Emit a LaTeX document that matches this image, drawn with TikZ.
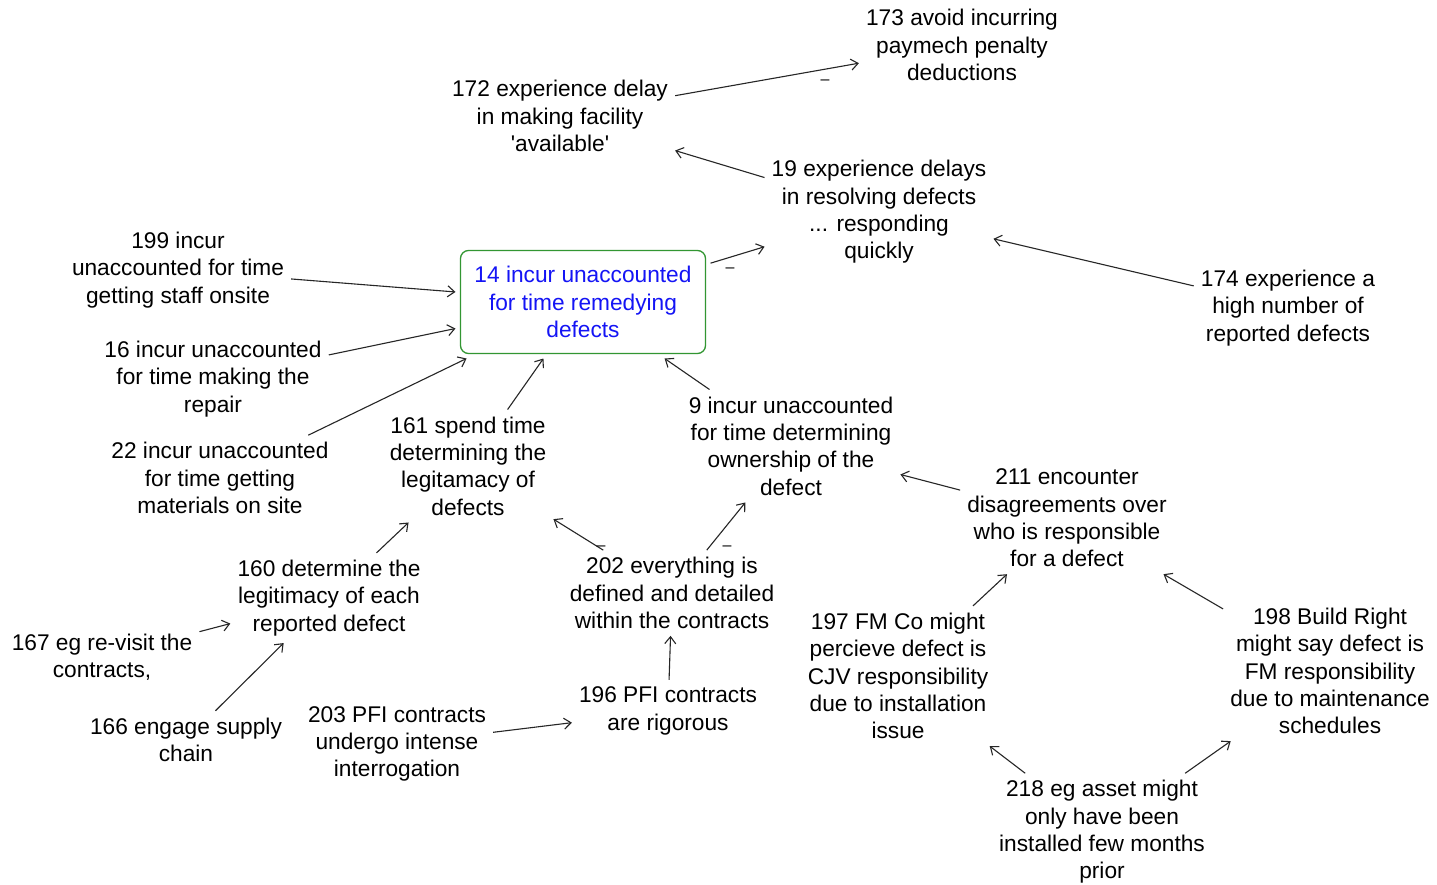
\documentclass[tikz,border=0pt]{standalone}
\usepackage{fontspec}
\setmainfont{Liberation Sans}[Ligatures=TeXOff]
\usetikzlibrary{arrows.meta}
\definecolor{framegreen}{RGB}{50,150,50}
\definecolor{focusblue}{RGB}{20,20,245}
\begin{document}
\begin{tikzpicture}[x=1pt,y=-1pt,
  txt/.style={align=center,font=\fontsize{22.7}{27.3}\selectfont,inner sep=7pt,text=black},
  focus/.style={txt,text=focusblue,draw=framegreen,line width=1.3pt,rounded corners=8pt,
    minimum width=245pt,minimum height=103pt,inner sep=4pt,outer sep=5pt},
  arr/.style={-{Straight Barb[length=7pt,width=11pt]},line width=1.1pt,draw=black!85},
  neg/.style={font=\fontsize{16}{16}\selectfont,inner sep=0pt}]
\useasboundingbox[fill=white] (0,0) rectangle (1437,885);

% concepts
\node[txt] (n173) at (962,45) {173 avoid incurring\\paymech penalty\\deductions};
\node[txt] (n172) at (560,116) {172 experience delay\\in making facility\\'available'};
\node[txt] (n19) at (879,212) {19 experience delays\\in resolving defects\\... responding\\quickly};
\node[txt] (n199) at (178,270) {199 incur\\unaccounted for time\\getting staff onsite};
\node[focus] (n14) at (583,302) {14 incur unaccounted\\for time remedying\\defects};
\node[txt] (n174) at (1288,308) {174 experience a\\high number of\\reported defects};
\node[txt] (n16) at (213,379) {16 incur unaccounted\\for time making the\\repair};
\node[txt] (n22) at (220,478) {22 incur unaccounted\\for time getting\\materials on site};
\node[txt] (n161) at (468,466) {161 spend time\\determining the\\legitamacy of\\defects};
\node[txt] (n9) at (791,446) {9 incur unaccounted\\for time determining\\ownership of the\\defect};
\node[txt] (n211) at (1067,518) {211 encounter\\disagreements over\\who is responsible\\for a defect};
\node[txt] (n160) at (329,598) {160 determine the\\legitimacy of each\\reported defect};
\node[txt] (n202) at (672,593) {202 everything is\\defined and detailed\\within the contracts};
\node[txt] (n167) at (102,657) {167 eg re-visit the\\contracts,};
\node[txt] (n197) at (898,676) {197 FM Co might\\percieve defect is\\CJV responsibility\\due to installation\\issue};
\node[txt] (n198) at (1330,671) {198 Build Right\\might say defect is\\FM responsibility\\due to maintenance\\schedules};
\node[txt] (n196) at (668,711) {196 PFI contracts\\are rigorous};
\node[txt] (n166) at (186,740) {166 engage supply\\chain};
\node[txt] (n203) at (397,744) {203 PFI contracts\\undergo intense\\interrogation};
\node[txt] (n218) at (1102,832) {218 eg asset might\\only have been\\installed few months\\prior};

% links
\draw[arr] (n172) -- (n173);
\draw[arr] (n19) -- (n172);
\draw[arr] (n174) -- (n19);
\draw[arr] (n14) -- (n19);
\draw[arr] (n199) -- (n14);
\draw[arr] (n16) -- (n14);
\draw[arr] (n22) -- (n14);
\draw[arr] (n161) -- (n14);
\draw[arr] (n9) -- (n14);
\draw[arr] (n211) -- (n9);
\draw[arr] (n202) -- (n161);
\draw[arr] (n202) -- (n9);
\draw[arr] (n160) -- (n161);
\draw[arr] (n167) -- (n160);
\draw[arr] (n166) -- (n160);
\draw[arr] (n203) -- (n196);
\draw[arr] (n196) -- (n202);
\draw[arr] (n197) -- (n211);
\draw[arr] (n198) -- (n211);
\draw[arr] (n218) -- (n197);
\draw[arr] (n218) -- (n198);

% negative link signs
\node[neg] (m1) at (825,82) {–};
\node[neg] (m2) at (730,270) {–};
\node[neg] (m3) at (601,548) {–};
\node[neg] (m4) at (727,548) {–};
\end{tikzpicture}
\end{document}
